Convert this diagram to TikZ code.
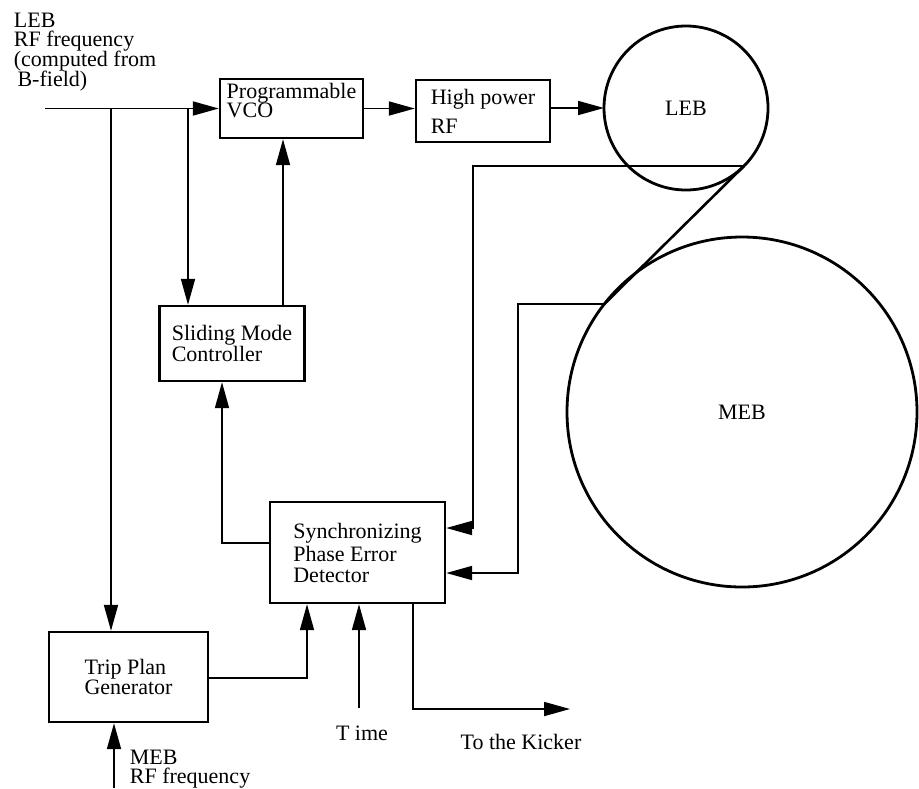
\documentclass[tikz,border=0pt]{standalone}
\usepackage{fontspec}
\setmainfont{Liberation Serif}
\usetikzlibrary{arrows.meta,positioning,calc}
\tikzset {
    block/.style={draw, line width=1.2pt, align=left, inner sep=0pt},
    ring/.style={draw, circle, line width=1.4pt, inner sep=0pt, outer sep=0pt},
    lbl/.style={align=left, inner sep=0pt},
    every node/.style={font=\fontsize{11}{10}\selectfont},
    every path/.style={line width=0.9pt},
    >={Triangle[length=13pt,width=7pt]}
}

\begin{document}
\begin{tikzpicture}[x=0.5pt, y=-0.5pt]

    \useasboundingbox (0,0) rectangle (919,788);

    % blocks and rings
    \node[block, minimum width=71.5pt, minimum height=29.5pt, text depth=8pt] (vco) at (291.5,108.5)
        {Programmable\\[-0.5pt]VCO};
    \node[block, minimum width=67pt, minimum height=31pt] (hprf) at (483,111)
        {High power\\[4.5pt]RF};
    \node[block, minimum width=72.5pt, minimum height=37.5pt] (smc) at (232,343.5)
        {Sliding Mode\\[-0.5pt]Controller};
    \node[block, minimum width=87.5pt, minimum height=50.5pt] (det) at (357.5,552.5)
        {Synchronizing\\[0.5pt]Phase Error\\[0.5pt]Detector};
    \node[block, minimum width=79.5pt, minimum height=45pt] (trip) at (128.5,677)
        {Trip Plan\\Generator};
    \node[ring, minimum size=82pt] (leb) at (686,108) {LEB};
    \node[ring, minimum size=175pt] (meb) at (742,412) {MEB};

    % free texts
    \node[lbl, anchor=north west] (lebrf) at (13,12)
        {LEB\\[-0.5pt]RF frequency\\[-1pt](computed from\\[-1pt]\,B-field)};
    \node[lbl, anchor=north west] (mebrf) at (129,749) {MEB\\[-0.5pt]RF frequency};
    \node[lbl] (time) at (362,733) {T ime};
    \node[lbl] (kicker) at (521,742) {To the Kicker};

    % helper points
    \coordinate (in) at (45,108.5);
    \coordinate (b1) at (111,108.5);
    \coordinate (b2) at (188,108.5);
    \coordinate (up) at (283,0);
    \coordinate (fb) at (222,543);
    \coordinate (tp) at (307,678);
    \coordinate (tm) at (359,708);
    \coordinate (kk) at (413,709);
    \coordinate (kick) at (570,709);
    \coordinate (f1) at (473,528);
    \coordinate (f2) at (518,573);
    \coordinate (mf) at (114,788);

    % connectors
    \draw[->] (in) -- (vco.west);
    \draw[->] (b1) -- (b1 |- trip.north);
    \draw[->] (b2) -- (b2 |- smc.north);
    \draw[->] (vco.east) -- (vco.east -| hprf.west);
    \draw[->] (leb.west -| hprf.east) -- (leb.west);
    \draw[->] (up |- smc.north) -- (up |- vco.south);
    \draw[->] (fb -| det.west) -| (fb |- smc.south);
    \draw[->] (tp -| trip.east) -| (tp |- det.south);
    \draw[->] (tm) -- (tm |- det.south);
    \draw[->] (kk |- det.south) |- (kick);
    \draw[->] (mf) -- (mf |- trip.south);
    \draw[line width=1.3pt] (leb.-45) -- (meb.142);
    \draw[->] (leb.-45) -| (f1) -- (f1 -| det.east);
    \draw[->] (meb.142) -| (f2) -- (f2 -| det.east);

\end{tikzpicture}
\end{document}
